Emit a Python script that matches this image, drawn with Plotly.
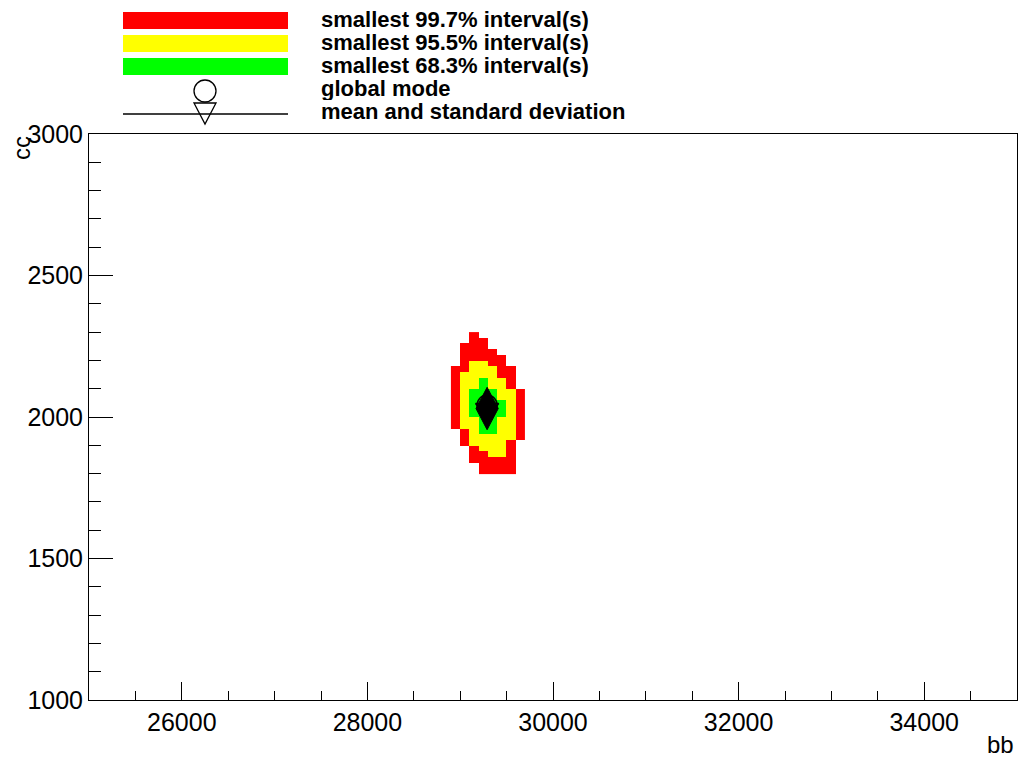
import plotly.graph_objects as go

# ---------------- data ----------------
x_bin_width = 100
y_bin_width = 20
x_first_bin = 28900
n_x_bins = 8

# lower edge of each y-bin (rows of the 2D histogram)
row_y = [2280, 2260, 2240, 2220, 2200, 2180, 2160, 2140, 2120, 2100, 2080, 2060, 2040,
         2020, 2000, 1980, 1960, 1940, 1920, 1900, 1880, 1860, 1840, 1820, 1800]
# x-range (bin lower edges) covered by each interval, per row
red_lo = [29100, 29100, 29000, 29000, 29000, 29000, 28900, 28900, 28900, 28900, 28900, 28900, 28900,
          28900, 28900, 28900, 28900, 29000, 29000, 29000, 29100, 29100, 29100, 29200, 29200]
red_hi = [29100, 29200, 29200, 29300, 29400, 29400, 29500, 29500, 29500, 29500, 29600, 29600, 29600,
          29600, 29600, 29600, 29600, 29600, 29600, 29500, 29500, 29500, 29500, 29500, 29500]
yel_lo = [None, None, None, None, None, 29100, 29100, 29000, 29000, 29000, 29000, 29000, 29000,
          29000, 29000, 29000, 29000, 29100, 29100, 29100, 29200, 29300, None, None, None]
yel_hi = [None, None, None, None, None, 29200, 29300, 29300, 29400, 29400, 29500, 29500, 29500,
          29500, 29500, 29500, 29500, 29500, 29500, 29400, 29400, 29400, None, None, None]
grn_lo = [None, None, None, None, None, None, None, None, 29200, 29200, 29100, 29100, 29100,
          29100, 29100, 29200, 29200, 29200, None, None, None, None, None, None, None]
grn_hi = [None, None, None, None, None, None, None, None, 29200, 29200, 29300, 29300, 29400,
          29400, 29400, 29300, 29300, 29300, None, None, None, None, None, None, None]

mean_x, mean_y = 29290, 2030
std_x, std_y = 120, 75
mode_x, mode_y = 29290, 2042

legend_labels = ["smallest 99.7% interval(s)", "smallest 95.5% interval(s)",
                 "smallest 68.3% interval(s)", "global mode", "mean and standard deviation"]
band_colors = ["#ff0000", "#ffff00", "#00ff00"]

x_range = [25000, 35000]
y_range = [1000, 3000]

# ---------------- build histogram ----------------
x_edges = [x_first_bin + i * x_bin_width for i in range(n_x_bins)]
x_centers = [e + x_bin_width / 2 for e in x_edges]
y_centers = [r + y_bin_width / 2 for r in row_y]


def inside(v, lo, hi):
    return lo is not None and lo <= v <= hi


z = []
for i in range(len(row_y)):
    row = []
    for e in x_edges:
        if inside(e, grn_lo[i], grn_hi[i]):
            row.append(3)
        elif inside(e, yel_lo[i], yel_hi[i]):
            row.append(2)
        elif inside(e, red_lo[i], red_hi[i]):
            row.append(1)
        else:
            row.append(None)
    z.append(row)

fig = go.Figure()
fig.add_trace(go.Heatmap(
    x=x_centers, y=y_centers, z=z, zmin=1, zmax=3, showscale=False, hoverinfo="skip",
    colorscale=[[0, band_colors[0]], [0.3333, band_colors[0]], [0.3334, band_colors[1]],
                [0.6666, band_colors[1]], [0.6667, band_colors[2]], [1, band_colors[2]]],
))

# mean +- std drawn as filled arrow heads (diamond)
fig.add_trace(go.Scatter(
    x=[mean_x - std_x, mean_x, mean_x + std_x, mean_x, mean_x - std_x],
    y=[mean_y, mean_y + std_y, mean_y, mean_y - std_y, mean_y],
    mode="lines", fill="toself", fillcolor="black", line=dict(color="black", width=1),
    showlegend=False, hoverinfo="skip"))
fig.add_trace(go.Scatter(x=[mode_x], y=[mode_y], mode="markers", showlegend=False,
                         marker=dict(symbol="circle-open", size=20, color="black", line=dict(width=1.5))))
fig.add_trace(go.Scatter(x=[mean_x], y=[mean_y], mode="markers", showlegend=False,
                         marker=dict(symbol="triangle-down-open", size=20, color="black",
                                     line=dict(width=1.5))))

W, H = 1023, 759
L, R, T, B = 89, 6, 134, 59
pw, ph = W - L - R, H - T - B


def px(xp):
    return (xp - L) / pw


def py(yp):
    return (H - B - yp) / ph


FONT = "Liberation Sans"
shapes = []
annotations = []
# legend colour boxes
box_top = [12, 35, 58]
for c, t in zip(band_colors, box_top):
    shapes.append(dict(type="rect", xref="paper", yref="paper", x0=px(123), x1=px(288),
                       y0=py(t), y1=py(t + 17), fillcolor=c, line=dict(width=0), layer="above"))
# global mode symbol
shapes.append(dict(type="circle", xref="paper", yref="paper", x0=px(194), x1=px(216),
                   y0=py(80), y1=py(102), line=dict(color="black", width=1.3)))
# mean + std symbol
shapes.append(dict(type="line", xref="paper", yref="paper", x0=px(123), x1=px(288),
                   y0=py(114), y1=py(114), line=dict(color="black", width=1.3)))
shapes.append(dict(type="path", xref="paper", yref="paper",
                   path=f"M {px(194)},{py(103)} L {px(216)},{py(103)} L {px(205)},{py(124)} Z",
                   line=dict(color="black", width=1.3)))

for k, lab in enumerate(legend_labels):
    annotations.append(dict(text=lab, xref="paper", yref="paper", x=px(320), y=py(19.5 + 23 * k),
                            xanchor="left", yanchor="middle", showarrow=False, height=23,
                            borderpad=0,
                            font=dict(family=FONT, size=22, color="black", weight="bold")))

annotations.append(dict(text="bb", xref="paper", yref="paper", x=px(1016), y=py(745),
                        xanchor="right", yanchor="middle", showarrow=False,
                        font=dict(family=FONT, size=24, color="black")))
annotations.append(dict(text="cc", xref="paper", yref="paper", x=px(22), y=py(148),
                        xanchor="center", yanchor="middle", showarrow=False, textangle=-90,
                        font=dict(family=FONT, size=24, color="black")))

axis_common = dict(showgrid=False, zeroline=False, showline=True, linecolor="black", linewidth=1,
                   mirror=True, ticks="inside", tickcolor="black", tickwidth=1, tickformat="d",
                   tickfont=dict(family=FONT, size=25, color="black"))
fig.update_layout(
    width=W, height=H, margin=dict(l=L, r=R, t=T, b=B),
    paper_bgcolor="white", plot_bgcolor="white", showlegend=False,
    xaxis=dict(range=x_range, tick0=26000, dtick=2000, ticklen=18,
               minor=dict(ticks="inside", ticklen=9, dtick=500, tick0=25000, tickcolor="black",
                          tickwidth=1, showgrid=False), **axis_common),
    yaxis=dict(range=y_range, tick0=1000, dtick=500, ticklen=24,
               minor=dict(ticks="inside", ticklen=12, dtick=100, tick0=1000, tickcolor="black",
                          tickwidth=1, showgrid=False), **axis_common),
    shapes=shapes, annotations=annotations,
)

fig.write_html("out.html")
